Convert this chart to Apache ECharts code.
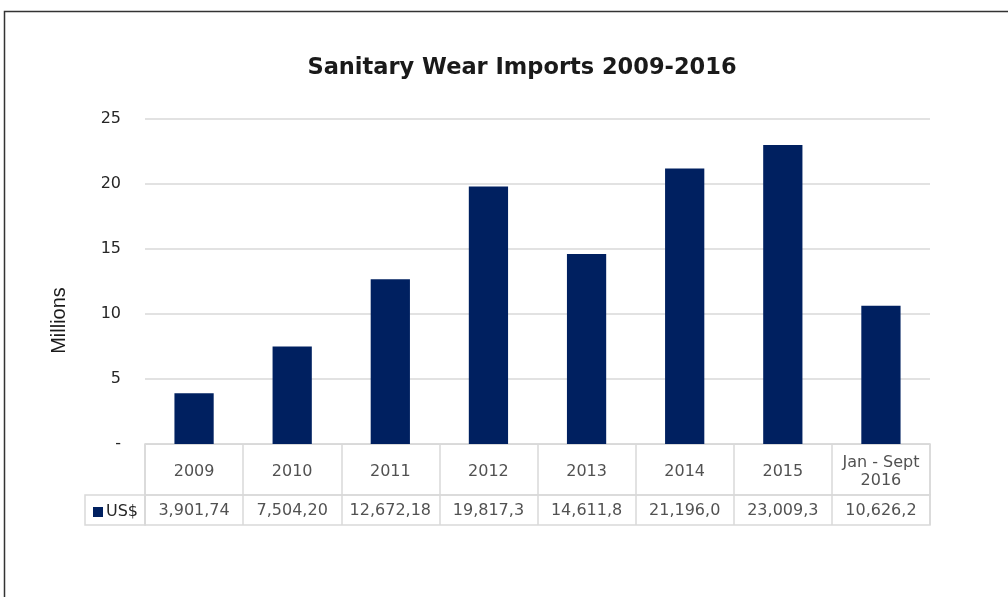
<!DOCTYPE html>
<html>
<head>
<meta charset="utf-8">
<script src="https://cdn.jsdelivr.net/npm/echarts@6/dist/echarts.min.js"></script>
<style>
  html, body { margin: 0; padding: 0; background: #fff; }
  #chart { width: 1008px; height: 597px; }
</style>
</head>
<body>
<div id="chart"></div>
<script>
const categories = ['2009', '2010', '2011', '2012', '2013', '2014', '2015', 'Jan - Sept\n2016'];
const valuesMillions = [3.90174, 7.50420, 12.67218, 19.8173, 14.6118, 21.1960, 23.0093, 10.6262];
const tableLabels = ['3,901,74', '7,504,20', '12,672,18', '19,817,3', '14,611,8', '21,196,0', '23,009,3', '10,626,2'];
const seriesName = 'US$';
const yTicks = { min: 0, max: 25, interval: 5 };

const FONT = "'DejaVu Sans', sans-serif";
const TXT = '#262626';
const LINE = '#d9d9d9';
const BAR = '#002060';

const chart = echarts.init(document.getElementById('chart'), null, { renderer: 'canvas' });

const cellData = (labels) => labels.map((t, i) => ({ value: [i, 0.5], label: { formatter: t } }));

const option = {
  backgroundColor: '#fff',
  animation: false,
  title: {
    text: 'Sanitary Wear Imports 2009-2016',
    left: 517, top: 52, textAlign: 'center',
    textStyle: { fontFamily: FONT, fontSize: 22.5, fontWeight: 'bold', color: '#1a1a1a' }
  },
  legend: {
    data: [seriesName],
    left: 88, top: 499,
    icon: 'rect', itemWidth: 10, itemHeight: 10, itemGap: 4,
    textStyle: { fontFamily: FONT, fontSize: 16, color: TXT, padding: [0, 0, 0, -2] }
  },
  graphic: [{
    type: 'rect', silent: true,
    shape: { x: 4.5, y: 11.5, width: 1200, height: 800 },
    style: { fill: 'none', stroke: '#333', lineWidth: 1.5 }
  }],
  grid: [
    { left: 145, right: 78, top: 119, bottom: 153 },
    { left: 145, right: 78, top: 444, height: 51, show: true, borderColor: LINE, borderWidth: 1.5, backgroundColor: 'transparent' },
    { left: 145, right: 78, top: 495, height: 30, show: true, borderColor: LINE, borderWidth: 1.5, backgroundColor: 'transparent' },
    { left: 85, width: 60, top: 495, height: 30, show: true, borderColor: LINE, borderWidth: 1.5, backgroundColor: 'transparent' }
  ],
  xAxis: [
    { type: 'category', gridIndex: 0, data: categories, axisLine: { show: true, lineStyle: { color: LINE } }, axisTick: { show: false }, axisLabel: { show: false } },
    { type: 'category', gridIndex: 1, data: categories, axisLine: { show: false }, axisTick: { show: false }, axisLabel: { show: false }, splitLine: { show: true, interval: 0, lineStyle: { color: LINE, width: 1.5 } } },
    { type: 'category', gridIndex: 2, data: categories, axisLine: { show: false }, axisTick: { show: false }, axisLabel: { show: false }, splitLine: { show: true, interval: 0, lineStyle: { color: LINE, width: 1.5 } } },
    { type: 'value', gridIndex: 3, show: false }
  ],
  yAxis: [
    {
      type: 'value', gridIndex: 0, min: yTicks.min, max: yTicks.max, interval: yTicks.interval,
      name: 'Millions', nameLocation: 'middle', nameGap: 76, nameRotate: 90,
      nameTextStyle: { fontFamily: "'Liberation Sans', Arial, sans-serif", fontSize: 20, color: '#1a1a1a', padding: [0, 78, 0, 0] },
      axisLine: { show: false }, axisTick: { show: false },
      axisLabel: { margin: 24, fontFamily: FONT, fontSize: 16, color: TXT, formatter: v => v === 0 ? '-' : String(v) },
      splitLine: { show: true, lineStyle: { color: LINE, width: 1.5 } }
    },
    { type: 'value', gridIndex: 1, min: 0, max: 1, show: false },
    { type: 'value', gridIndex: 2, min: 0, max: 1, show: false },
    { type: 'value', gridIndex: 3, show: false }
  ],
  series: [
    {
      name: seriesName, type: 'bar', xAxisIndex: 0, yAxisIndex: 0,
      data: valuesMillions, barWidth: '40%',
      itemStyle: { color: BAR }
    },
    {
      name: 'header', type: 'scatter', xAxisIndex: 1, yAxisIndex: 1, symbolSize: 0, silent: true,
      data: cellData(categories),
      label: { show: true, position: 'inside', fontFamily: FONT, fontSize: 16, lineHeight: 18, color: TXT, offset: [0, 2] }
    },
    {
      name: 'values', type: 'scatter', xAxisIndex: 2, yAxisIndex: 2, symbolSize: 0, silent: true,
      data: cellData(tableLabels),
      label: { show: true, position: 'inside', fontFamily: FONT, fontSize: 16, color: TXT, offset: [0, 1] }
    }
  ]
};
chart.setOption(option);
</script>
</body>
</html>
